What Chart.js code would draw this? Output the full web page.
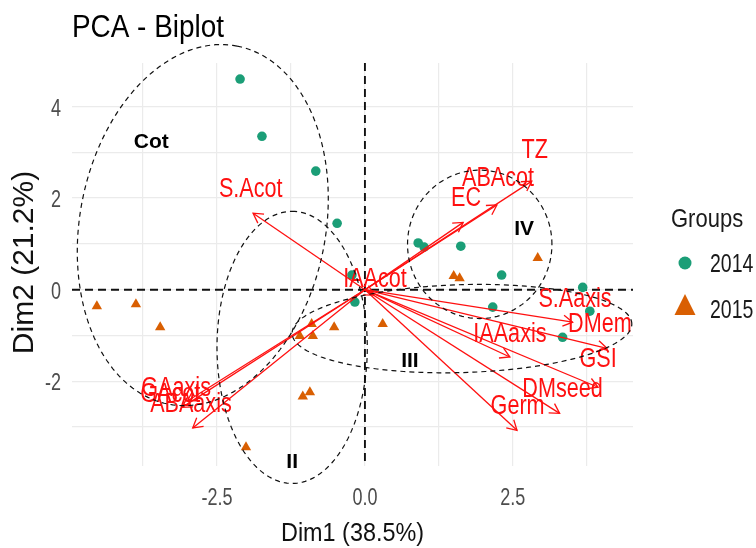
<!DOCTYPE html>
<html>
<head>
<meta charset="utf-8">
<script src="https://cdn.jsdelivr.net/npm/chart.js@4.4.1/dist/chart.umd.min.js"></script>
<style>
  html, body { margin: 0; padding: 0; background: #ffffff; }
  #wrap { width: 756px; height: 548px; position: relative; }
</style>
</head>
<body>
<div id="wrap"><canvas id="biplot" width="756" height="548"></canvas></div>
<script>
// ---- axis ticks ----
const xTickLabels = [-2.5, 0, 2.5];
const yTickLabels = [-2, 0, 2, 4];
const xGrid = [-3.75, -2.5, -1.25, 0, 1.25, 2.5, 3.75];
const yGrid = [-3, -2, -1, 0, 1, 2, 3, 4];

// ---- individuals (PC scores) ----
const groupNames = ['2014', '2015'];
const dim1_2014 = [-2.11, -1.74, -0.83, -0.47, -0.22, -0.17, 0.90, 1.00, 1.62, 2.31, 2.16, 3.68, 3.80, 3.34];
const dim2_2014 = [ 4.60,  3.35,  2.59,  1.45,  0.32, -0.27, 1.02, 0.93, 0.95, 0.32, -0.38, 0.05, -0.47, -1.04];
const dim1_2015 = [-4.53, -3.87, -3.46, -1.10, -0.90, -0.88, -0.52, -1.05, -0.93, -2.01, 0.30, 1.50, 1.60, 2.92];
const dim2_2015 = [-0.36, -0.32, -0.82, -1.01, -0.75, -1.01, -0.82, -2.33, -2.24, -3.44, -0.75, 0.30, 0.25, 0.69];

// ---- variables (loadings, scaled) ----
const varNames = ['S.Acot', 'IAAcot', 'TZ', 'ABAcot', 'EC', 'S.Aaxis', 'DMem', 'GSI', 'IAAaxis', 'DMseed', 'Germ', 'GAaxis', 'GAcot', 'ABAaxis'];
const varDim1  = [-1.89, 0.15, 2.82, 2.23, 1.66, 3.51, 4.09, 3.94, 2.45, 3.29, 2.57, -3.09, -3.00, -2.91];
const varDim2  = [ 1.67, -0.12, 2.37, 1.85, 1.47, -0.71, -1.28, -2.13, -1.47, -2.70, -3.07, -2.57, -2.43, -3.02];
// repelled label anchors for the variable names
const varLabelDim1 = [-1.93, 0.17, 2.87, 2.25, 1.71, 3.55, 3.97, 3.94, 2.45, 3.34, 2.58, -3.19, -3.29, -2.94];
const varLabelDim2 = [ 2.24, 0.27, 3.09, 2.48, 2.04, -0.16, -0.71, -1.47, -0.93, -2.13, -2.50, -2.11, -2.24, -2.46];

// ---- cluster ellipses: centre and two half-axis vectors ----
const clusterNames = ['Cot', 'II', 'III', 'IV'];
const clusterCx = [-2.74, -1.23, 1.64, 1.94];
const clusterCy = [ 1.41, -1.26, -0.85, 0.99];
const clusterUx = [ 0.58, 0.00, 2.87, 1.22];
const clusterUy = [ 3.91, 2.97, 0.10, 0.00];
const clusterVx = [ 2.04, 1.27, 0.00, 0.00];
const clusterVy = [-0.51, 0.00, 0.96, 1.62];
const clusterTagX = [-3.61, -1.23, 0.76, 2.69];
const clusterTagY = [ 3.26, -3.74, -1.52, 1.36];

const SANS = "'Liberation Sans', Arial, sans-serif";
const GREEN = '#1B9E77';
const ORANGE = '#D95F02';
const RED = '#FF1010';

const toPoints = (xs, ys) => xs.map((v, i) => ({ x: v, y: ys[i] }));

// text with a horizontal squeeze factor (the typeface is a condensed grotesque)
function squeezedText(ctx, str, x, y, size, sx, align, baseline, weight) {
  ctx.save();
  ctx.translate(x, y);
  ctx.scale(sx, 1);
  ctx.font = `${weight || 'normal'} ${size}px ${SANS}`;
  ctx.textAlign = align;
  ctx.textBaseline = baseline;
  ctx.fillText(str, 0, 0);
  ctx.restore();
}

const arrowSets = varNames.map((name, i) => ({
  label: name,
  data: [{ x: 0, y: 0 }, { x: varDim1[i], y: varDim2[i] }],
  showLine: true,
  borderColor: RED,
  borderWidth: 1.3,
  pointRadius: 0,
  fill: false,
  order: 0
}));

const overlay = {
  id: 'biplotOverlay',
  beforeDatasetsDraw(chart) {
    const { ctx, chartArea: a, scales: { x, y } } = chart;
    const x0 = x.getPixelForValue(0), y0 = y.getPixelForValue(0);
    ctx.save();
    ctx.strokeStyle = '#111111';
    ctx.lineWidth = 1.9;
    ctx.setLineDash([8, 5]);
    ctx.beginPath();
    ctx.moveTo(x0, a.top); ctx.lineTo(x0, a.bottom);
    ctx.moveTo(a.left, y0); ctx.lineTo(a.right, y0);
    ctx.stroke();
    ctx.restore();
  },
  afterDatasetsDraw(chart) {
    const { ctx, scales: { x, y } } = chart;
    const x0 = x.getPixelForValue(0), y0 = y.getPixelForValue(0);
    ctx.save();
    // open arrowheads at each loading tip
    ctx.strokeStyle = RED;
    ctx.lineWidth = 1.3;
    varNames.forEach((n, i) => {
      const tx = x.getPixelForValue(varDim1[i]);
      const ty = y.getPixelForValue(varDim2[i]);
      const ang = Math.atan2(ty - y0, tx - x0);
      const L = 11, spread = Math.PI / 6;
      ctx.beginPath();
      ctx.moveTo(tx - L * Math.cos(ang - spread), ty - L * Math.sin(ang - spread));
      ctx.lineTo(tx, ty);
      ctx.lineTo(tx - L * Math.cos(ang + spread), ty - L * Math.sin(ang + spread));
      ctx.stroke();
    });
    // variable names
    ctx.fillStyle = RED;
    varNames.forEach((n, i) => {
      squeezedText(ctx, n, x.getPixelForValue(varLabelDim1[i]), y.getPixelForValue(varLabelDim2[i]) + 10,
        27, 0.8, 'center', 'alphabetic');
    });
    // cluster ellipses
    ctx.strokeStyle = '#111111';
    ctx.lineWidth = 1.2;
    ctx.setLineDash([5, 4]);
    clusterNames.forEach((n, k) => {
      ctx.beginPath();
      for (let s = 0; s <= 180; s++) {
        const t = (s / 180) * Math.PI * 2;
        const dx = clusterCx[k] + Math.cos(t) * clusterUx[k] + Math.sin(t) * clusterVx[k];
        const dy = clusterCy[k] + Math.cos(t) * clusterUy[k] + Math.sin(t) * clusterVy[k];
        const px = x.getPixelForValue(dx), py = y.getPixelForValue(dy);
        if (s === 0) ctx.moveTo(px, py); else ctx.lineTo(px, py);
      }
      ctx.closePath();
      ctx.stroke();
    });
    ctx.setLineDash([]);
    ctx.fillStyle = '#000000';
    clusterNames.forEach((n, k) => {
      squeezedText(ctx, n, x.getPixelForValue(clusterTagX[k]), y.getPixelForValue(clusterTagY[k]) + 7.5,
        21, 1, 'center', 'alphabetic', 'bold');
    });
    ctx.restore();
  },
  afterDraw(chart) {
    const { ctx, chartArea: a, scales: { x, y } } = chart;
    ctx.save();
    // tick labels along both axes
    ctx.fillStyle = '#4D4D4D';
    xTickLabels.forEach(v => {
      squeezedText(ctx, v.toFixed(1), x.getPixelForValue(v), 505, 24, 0.75, 'center', 'alphabetic');
    });
    yTickLabels.forEach(v => {
      squeezedText(ctx, String(v), 61, y.getPixelForValue(v) + 9, 24, 0.75, 'right', 'alphabetic');
    });
    // axis titles
    ctx.fillStyle = '#111111';
    squeezedText(ctx, 'Dim1 (38.5%)', (a.left + a.right) / 2, 541, 26, 0.9, 'center', 'alphabetic');
    ctx.save();
    ctx.translate(33, (a.top + a.bottom) / 2 - 2);
    ctx.rotate(-Math.PI / 2);
    ctx.font = `30px ${SANS}`;
    ctx.textAlign = 'center';
    ctx.textBaseline = 'alphabetic';
    ctx.fillText('Dim2 (21.2%)', 0, 0);
    ctx.restore();
    // title
    ctx.fillStyle = '#000000';
    squeezedText(ctx, 'PCA - Biplot', 72, 37, 31, 0.9, 'left', 'alphabetic');
    // legend
    ctx.fillStyle = '#1a1a1a';
    squeezedText(ctx, 'Groups', 671, 227, 25, 0.88, 'left', 'alphabetic');
    const keyX = 685;
    const rows = [263, 305];
    ctx.fillStyle = GREEN;
    ctx.beginPath();
    ctx.arc(keyX, rows[0], 6.5, 0, Math.PI * 2);
    ctx.fill();
    ctx.fillStyle = ORANGE;
    ctx.beginPath();
    ctx.moveTo(keyX, rows[1] - 11);
    ctx.lineTo(keyX + 10.5, rows[1] + 10);
    ctx.lineTo(keyX - 10.5, rows[1] + 10);
    ctx.closePath();
    ctx.fill();
    ctx.fillStyle = '#1a1a1a';
    groupNames.forEach((g, i) => squeezedText(ctx, g, 710, [272, 318][i], 25, 0.78, 'left', 'alphabetic'));
    ctx.restore();
  }
};

new Chart(document.getElementById('biplot'), {
  type: 'scatter',
  data: {
    datasets: [
      ...arrowSets,
      {
        label: groupNames[0],
        data: toPoints(dim1_2014, dim2_2014),
        pointStyle: 'circle',
        pointRadius: 4.8,
        backgroundColor: GREEN,
        borderWidth: 0,
        order: 1
      },
      {
        label: groupNames[1],
        data: toPoints(dim1_2015, dim2_2015),
        pointStyle: 'triangle',
        pointRadius: 6,
        backgroundColor: ORANGE,
        borderWidth: 0,
        order: 1
      }
    ]
  },
  options: {
    responsive: false,
    animation: false,
    layout: { padding: { left: 0, top: 63, right: 123, bottom: 0 } },
    plugins: { legend: { display: false }, tooltip: { enabled: false }, title: { display: false } },
    scales: {
      x: {
        type: 'linear',
        min: -4.95,
        max: 4.53,
        afterBuildTicks: s => { s.ticks = xGrid.map(v => ({ value: v })); },
        afterFit: s => { s.height = 82; },
        grid: { color: '#EBEBEB', lineWidth: 1.2, drawTicks: false },
        border: { display: false },
        ticks: { display: false },
        title: { display: false }
      },
      y: {
        type: 'linear',
        min: -3.85,
        max: 4.95,
        afterBuildTicks: s => { s.ticks = yGrid.map(v => ({ value: v })); },
        afterFit: s => { s.width = 72; },
        grid: { color: '#EBEBEB', lineWidth: 1.2, drawTicks: false },
        border: { display: false },
        ticks: { display: false },
        title: { display: false }
      }
    }
  },
  plugins: [overlay]
});
</script>
</body>
</html>
